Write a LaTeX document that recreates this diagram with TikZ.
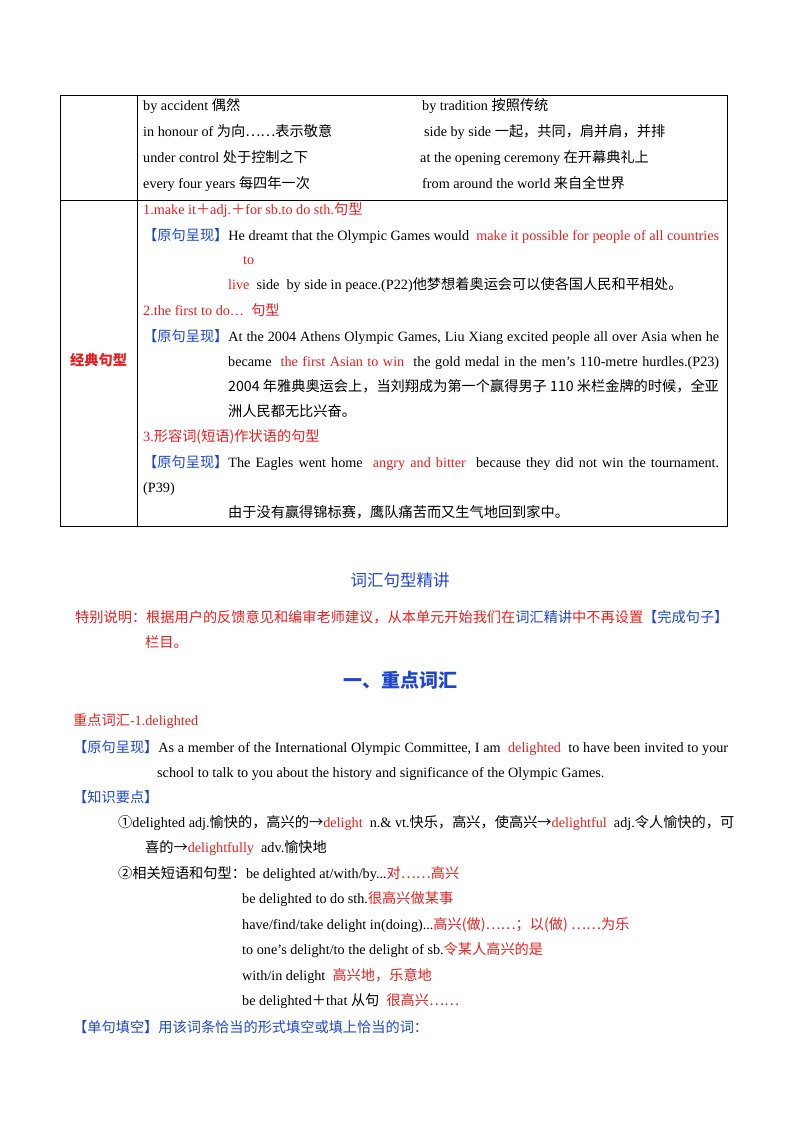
\documentclass[tikz,border=0pt]{standalone}
\usepackage{fontspec}
\setmainfont{Liberation Serif}
\newfontfamily\cjk{Noto Sans CJK SC}
\definecolor{rd}{RGB}{235,30,30}
\definecolor{bl}{RGB}{30,70,210}
\newcommand{\zh}[1]{{\cjk #1}}
\newcommand{\R}[1]{\textcolor{rd}{#1}}
\newcommand{\B}[1]{\textcolor{bl}{#1}}
\newcommand{\yj}{\B{\zh{【原句呈现】}}}
\tikzset{t/.style={anchor=base west,inner sep=0pt,font=\fontsize{14.2}{16}\selectfont}}
\begin{document}
\begin{tikzpicture}[x=1pt,y=-1pt]
\useasboundingbox (0,0) rectangle (800,1132);
\draw[line width=0.7pt] (60,95) rectangle (727,526) (137,95)--(137,526) (60,200)--(727,200);
\node[t] (a1) at (143,110) {by accident \zh{偶然}};
\node[t] (a2) at (422,110) {by tradition \zh{按照传统}};
\node[t] (a3) at (143,136) {in honour  of \zh{为向……表示敬意}};
\node[t] (a4) at (424,136) {side by side \zh{一起，共同，肩并肩，并排}};
\node[t] (a5) at (143,162) {under control \zh{处于控制之下}};
\node[t] (a6) at (420,162) {at the opening ceremony \zh{在开幕典礼上}};
\node[t] (a7) at (143,188) {every four years \zh{每四年一次}};
\node[t] (a8) at (422,188) {from around the world \zh{来自全世界}};
\node[t,font=\fontsize{14.2}{16}\cjk\bfseries] (k) at (70,365) {\R{经典句型}};
\node[t] (b1) at (143,214) {\R{1.make it\zh{＋}adj.\zh{＋}for sb.to do sth.\zh{句型}}};
\node[t] (b2) at (143,240) {\makebox[576pt][s]{\yj He dreamt that the Olympic Games would \ \R{make it possible for people of all countries}}};
\node[t] (b3) at (243,264) {\R{to}};
\node[t] (b4) at (228,289) {\R{live} \ side \ by side in peace.(P22)\zh{他梦想着奥运会可以使各国人民和平相处。}};
\node[t] (b5) at (143,315) {\R{2.the first to do… \ \zh{句型}}};
\node[t] (b6) at (143,341) {\makebox[576pt][s]{\yj At the 2004 Athens Olympic Games, Liu Xiang excited people all over Asia when he}};
\node[t] (b7) at (228,366) {\makebox[491pt][s]{became \ \R{the first Asian to win} \ the gold medal in the men’s 110-metre hurdles.(P23)}};
\node[t] (b8) at (228,391) {\zh{2004 年雅典奥运会上，当刘翔成为第一个赢得男子 110 米栏金牌的时候，全亚}};
\node[t] (b9) at (228,416) {\zh{洲人民都无比兴奋。}};
\node[t] (b10) at (143,441) {\R{3.\zh{形容词(短语)作状语的句型}}};
\node[t] (b11) at (143,467) {\makebox[576pt][s]{\yj The Eagles went home \ \R{angry and bitter} \ because they did not win the tournament.}};
\node[t] (b12) at (143,492) {(P39)};
\node[t] (b13) at (228,517) {\zh{由于没有赢得锦标赛，鹰队痛苦而又生气地回到家中。}};
\node[t,anchor=base,font=\fontsize{16.5}{18}\cjk] (h1) at (400,586) {\B{词汇句型精讲}};
\node[t] (s1) at (75,622) {\zh{\R{特别说明：根据用户的反馈意见和编审老师建议，从本单元开始我们在}\B{词汇精讲}\R{中不再设置}\B{【完成句子】}}};
\node[t] (s2) at (145,647) {\zh{\R{栏目。}}};
\node[t,anchor=base,font=\fontsize{19}{22}\cjk\bfseries] (h2) at (400,687) {\B{一、重点词汇}};
\node[t] (c1) at (73,725) {\R{\zh{重点词汇}-1.delighted}};
\node[t] (c2) at (73,752) {\makebox[655pt][s]{\yj As a member of the International Olympic Committee, I am \ \R{delighted} \ to have been invited to your}};
\node[t] (c3) at (157,777) {school to talk to you about the history and significance of the Olympic Games.};
\node[t] (c4) at (73,802) {\B{\zh{【知识要点】}}};
\node[t] (c5) at (118,827) {\zh{①}delighted adj.\zh{愉快的，高兴的→}\R{delight} \ n.\& vt.\zh{快乐，高兴，使高兴→}\R{delightful} \ adj.\zh{令人愉快的，可}};
\node[t] (c6) at (145,852) {\zh{喜的→}\R{delightfully} \ adv.\zh{愉快地}};
\node[t] (c7) at (118,878) {\zh{②相关短语和句型：}be delighted at/with/by...\R{\zh{对……高兴}}};
\node[t] (c8) at (242,903) {be delighted to do sth.\R{\zh{很高兴做某事}}};
\node[t] (c9) at (242,929) {have/find/take delight in(doing)...\R{\zh{高兴(做)……；以(做) ……为乐}}};
\node[t] (c10) at (242,954) {to one’s delight/to the delight of sb.\R{\zh{令某人高兴的是}}};
\node[t] (c11) at (242,980) {with/in delight \ \R{\zh{高兴地，乐意地}}};
\node[t] (c12) at (242,1005) {be delighted\zh{＋}that \zh{从句} \ \R{\zh{很高兴……}}};
\node[t] (c13) at (73,1032) {\B{\zh{【单句填空】用该词条恰当的形式填空或填上恰当的词：}}};
\end{tikzpicture}
\end{document}
